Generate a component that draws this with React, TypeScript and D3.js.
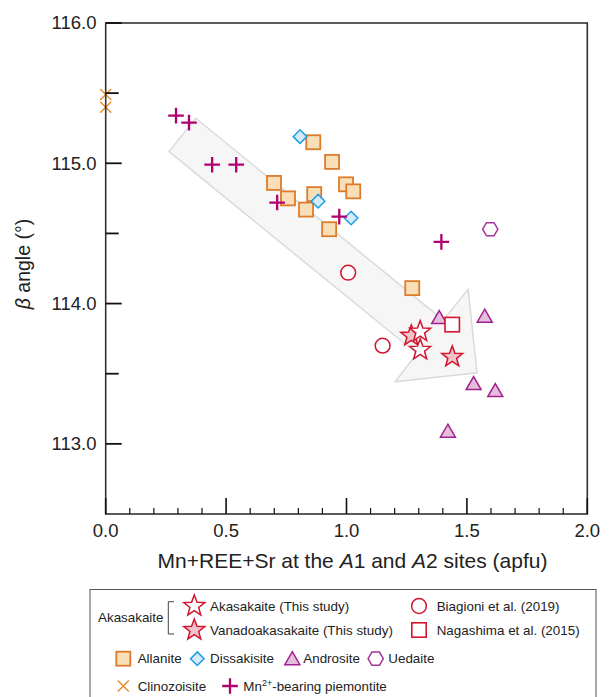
import * as d3 from 'd3'

type Pt = [number, number]

// values (x: apfu, y: beta angle in degrees)
const allanite: Pt[] = [
  [0.862, 115.15], [0.94, 115.01], [0.699, 114.86], [0.998, 114.85], [1.028, 114.8],
  [0.757, 114.75], [0.866, 114.78], [0.832, 114.67], [0.928, 114.53], [1.273, 114.11],
]
const dissakisite: Pt[] = [[0.807, 115.19], [0.882, 114.73], [1.019, 114.61]]
const androsite: Pt[] = [[1.385, 113.9], [1.574, 113.91], [1.528, 113.43], [1.618, 113.38], [1.421, 113.09]]
const uedaite: Pt[] = [[1.597, 114.53]]
const clinozoisite: Pt[] = [[0.0, 115.49], [0.0, 115.4]]
const piemontite: Pt[] = [
  [0.292, 115.34], [0.346, 115.29], [0.442, 114.99], [0.542, 114.99],
  [0.712, 114.72], [0.97, 114.62], [1.394, 114.44],
]
const biagioni: Pt[] = [[1.007, 114.22], [1.15, 113.7]]
const nagashima: Pt[] = [[1.439, 113.85]]
const akasakaite: Pt[] = [[1.306, 113.8], [1.306, 113.67]]
const vanadoakasakaite: Pt[] = [[1.269, 113.77], [1.439, 113.62]]

// trend arrow outline, in data units
const trendArrow: Pt[] = [
  [0.374, 115.321], [1.402, 113.882], [1.505, 114.102], [1.542, 113.507],
  [1.202, 113.443], [1.292, 113.644], [0.263, 115.083],
]

const xTickLabels = ['0.0', '0.5', '1.0', '1.5', '2.0']
const xMajor = [0, 0.5, 1, 1.5, 2]
const yTickLabels = ['113.0', '114.0', '115.0', '116.0']
const yMajor = [113, 114, 115, 116]

const W = 614
const H = 697
const L = 105.7
const R = 587.3
const T = 23
const B = 514

const RED = '#d2152e'
const ORANGE = '#de7b2b'
const FONT = 'Liberation Sans, Arial, sans-serif'

const starPath = (ro: number, ri: number) => {
  const p: string[] = []
  for (let i = 0; i < 10; i++) {
    const r = i % 2 === 0 ? ro : ri
    const a = -Math.PI / 2 + (i * Math.PI) / 5
    p.push(`${(r * Math.cos(a)).toFixed(2)},${(r * Math.sin(a)).toFixed(2)}`)
  }
  return 'M' + p.join('L') + 'Z'
}
const hexPath = (r: number) => {
  const p: string[] = []
  for (let i = 0; i < 6; i++) {
    const a = (i * Math.PI) / 3
    p.push(`${(r * Math.cos(a)).toFixed(2)},${(r * Math.sin(a)).toFixed(2)}`)
  }
  return 'M' + p.join('L') + 'Z'
}

type Shape = 'square' | 'diamond' | 'triangle' | 'hex' | 'plus' | 'cross' | 'circle' | 'redsq' | 'star' | 'fstar'

function Marker({ shape, cx, cy }: { shape: Shape; cx: number; cy: number }) {
  const t = `translate(${cx},${cy})`
  switch (shape) {
    case 'square':
      return <rect transform={t} x={-7} y={-7} width={14} height={14} fill="#f8dfb8" stroke={ORANGE} strokeWidth={1.8} />
    case 'diamond':
      return <path transform={t} d="M0,-6.8L6.8,0L0,6.8L-6.8,0Z" fill="#d5e9f9" stroke="#1a9fe3" strokeWidth={1.5} />
    case 'triangle':
      return <path transform={t} d="M0,-7L7.5,6L-7.5,6Z" fill="#e3bfdb" stroke="#a3208f" strokeWidth={1.5} />
    case 'hex':
      return <path transform={t} d={hexPath(7.6)} fill="#fff" stroke="#a3349b" strokeWidth={1.5} />
    case 'plus':
      return <path transform={t} d="M-7.8,0H7.8M0,-7.8V7.8" stroke="#b0006f" strokeWidth={2.3} fill="none" />
    case 'cross':
      return <path transform={t} d="M-5.5,-5.5L5.5,5.5M-5.5,5.5L5.5,-5.5" stroke="#e48a25" strokeWidth={1.3} fill="none" />
    case 'circle':
      return <circle transform={t} r={7.4} fill="#fff" stroke={RED} strokeWidth={1.5} />
    case 'redsq':
      return <rect transform={t} x={-7.2} y={-7.2} width={14.4} height={14.4} fill="#fff" stroke={RED} strokeWidth={1.6} />
    case 'star':
      return <path transform={t} d={starPath(11, 4.6)} fill="#fff" stroke={RED} strokeWidth={1.5} />
    case 'fstar':
      return <path transform={t} d={starPath(11, 4.6)} fill="#eec3cb" stroke={RED} strokeWidth={1.5} />
  }
}

export default function App() {
  const x = d3.scaleLinear().domain([0, 2]).range([L, R])
  const y = d3.scaleLinear().domain([112.5, 116]).range([B, T])

  const xMinor = d3.range(0.1, 2, 0.1).filter((v) => Math.abs(v * 2 - Math.round(v * 2)) > 1e-6)
  const yMinor = [113.5, 114.5, 115.5]

  const line = d3.line<Pt>().x((d) => x(d[0])).y((d) => y(d[1]))

  const series: [Pt[], Shape][] = [
    [clinozoisite, 'cross'],
    [allanite, 'square'],
    [dissakisite, 'diamond'],
    [piemontite, 'plus'],
    [androsite, 'triangle'],
    [uedaite, 'hex'],
    [biagioni, 'circle'],
    [nagashima, 'redsq'],
    [vanadoakasakaite, 'fstar'],
    [akasakaite, 'star'],
  ]

  const txt = { fontFamily: FONT, fill: '#222' }
  const LF = 13.4

  return (
    <svg width={W} height={H} style={{ position: 'absolute', left: 0, top: 0 }} fontFamily={FONT}>
      <rect width={W} height={H} fill="#fff" />

      {/* trend arrow */}
      <path d={line(trendArrow) + 'Z'} fill="#f6f6f6" stroke="#dadada" strokeWidth={1.5} />

      {series.map(([pts, shape], si) =>
        pts.map((d, i) => <Marker key={`${si}-${i}`} shape={shape} cx={x(d[0])} cy={y(d[1])} />),
      )}

      {/* frame */}
      <rect x={L} y={T} width={R - L} height={B - T} fill="none" stroke="#333" strokeWidth={1.6} />

      {/* ticks */}
      {xMajor.map((v) => (
        <line key={'xM' + v} x1={x(v)} x2={x(v)} y1={B} y2={B - 16} stroke="#111" strokeWidth={1.6} />
      ))}
      {xMinor.map((v) => (
        <line key={'xm' + v} x1={x(v)} x2={x(v)} y1={B} y2={B - 6} stroke="#111" strokeWidth={1.2} />
      ))}
      {yMajor.map((v) => (
        <line key={'yM' + v} x1={L} x2={L + 16} y1={y(v)} y2={y(v)} stroke="#111" strokeWidth={1.8} />
      ))}
      {yMinor.map((v) => (
        <line key={'ym' + v} x1={L} x2={L + 13} y1={y(v)} y2={y(v)} stroke="#111" strokeWidth={1.8} />
      ))}

      {xMajor.map((v, i) => (
        <text key={'xl' + v} x={x(v)} y={537} textAnchor="middle" fontSize={18.5} {...txt}>
          {xTickLabels[i]}
        </text>
      ))}
      {yMajor.map((v, i) => (
        <text key={'yl' + v} x={96.5} y={y(v)} dy="0.35em" textAnchor="end" fontSize={18.5} {...txt}>
          {yTickLabels[i]}
        </text>
      ))}

      <text x={352.5} y={568} textAnchor="middle" fontSize={21} {...txt}>
        Mn+REE+Sr at the <tspan fontStyle="italic">A</tspan>1 and <tspan fontStyle="italic">A</tspan>2 sites (apfu)
      </text>
      <text transform="translate(30,264) rotate(-90)" textAnchor="middle" fontSize={19.5} {...txt}>
        <tspan fontStyle="italic">β</tspan> angle (°)
      </text>

      {/* legend */}
      <rect x={90} y={589.5} width={506} height={120} fill="#fff" stroke="#555" strokeWidth={1} />
      <text x={98} y={617.5} dy="0.35em" fontSize={LF} {...txt}>Akasakaite</text>
      <path d="M174,601.7H168.3V634H174" fill="none" stroke="#444" strokeWidth={1} />
      <Marker shape="star" cx={194.3} cy={606} />
      <Marker shape="fstar" cx={194.3} cy={630} />
      <text x={210} y={606} dy="0.35em" fontSize={LF} {...txt}>Akasakaite (This study)</text>
      <text x={210} y={630} dy="0.35em" fontSize={LF} {...txt}>Vanadoakasakaite (This study)</text>
      <Marker shape="circle" cx={419} cy={606} />
      <Marker shape="redsq" cx={419} cy={630} />
      <text x={436.7} y={606} dy="0.35em" fontSize={LF} {...txt}>Biagioni et al. (2019)</text>
      <text x={436.7} y={630} dy="0.35em" fontSize={LF} {...txt}>Nagashima et al. (2015)</text>

      <Marker shape="square" cx={123.3} cy={658.7} />
      <text x={137.7} y={658.7} dy="0.35em" fontSize={LF} {...txt}>Allanite</text>
      <Marker shape="diamond" cx={197.3} cy={658.7} />
      <text x={210} y={658.7} dy="0.35em" fontSize={LF} {...txt}>Dissakisite</text>
      <Marker shape="triangle" cx={292.3} cy={658.7} />
      <text x={303.3} y={658.7} dy="0.35em" fontSize={LF} {...txt}>Androsite</text>
      <Marker shape="hex" cx={375.7} cy={658.7} />
      <text x={388.3} y={658.7} dy="0.35em" fontSize={LF} {...txt}>Uedaite</text>

      <Marker shape="cross" cx={123.3} cy={686} />
      <text x={137.7} y={686} dy="0.35em" fontSize={LF} {...txt}>Clinozoisite</text>
      <Marker shape="plus" cx={230} cy={686} />
      <text x={243.3} y={686} dy="0.35em" fontSize={LF} {...txt}>
        Mn<tspan fontSize={9} dy="-5">2+</tspan><tspan dy="5">-bearing piemontite</tspan>
      </text>
    </svg>
  )
}
